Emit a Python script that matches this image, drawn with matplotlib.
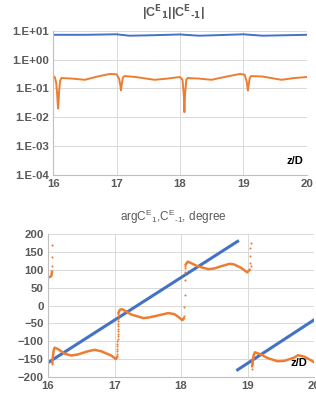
import numpy as np
import matplotlib.pyplot as plt

BLUE = '#4472C4'
ORANGE = '#ED7D31'
GRAY = '#595959'

# top panel: |C^E_1| and |C^E_-1| vs z/D
z_mag1 = [16.0, 16.5, 17.0, 17.2, 17.5, 18.0, 18.3, 18.5, 19.0, 19.3, 19.6, 20.0]
mag1 = [7.3, 7.3, 7.6, 6.8, 7.0, 7.5, 6.8, 7.0, 7.6, 6.8, 7.0, 7.3]

z_mag2 = [16.0, 16.03, 16.05, 16.065, 16.075, 16.08, 16.085, 16.095, 16.11, 16.13,
          16.3, 16.5, 16.7, 16.9, 17.0, 17.04, 17.06, 17.07, 17.08, 17.1, 17.13,
          17.3, 17.6, 17.8, 18.0, 18.04, 18.06, 18.07, 18.08, 18.1, 18.12,
          18.3, 18.5, 18.7, 18.95, 19.02, 19.05, 19.065, 19.07, 19.08, 19.1, 19.12,
          19.3, 19.6, 19.8, 20.0]
mag2 = [0.28, 0.24, 0.15, 0.06, 0.025, 0.02, 0.03, 0.08, 0.18, 0.23,
        0.22, 0.20, 0.26, 0.32, 0.31, 0.22, 0.13, 0.085, 0.13, 0.24, 0.27,
        0.25, 0.20, 0.22, 0.25, 0.20, 0.06, 0.015, 0.06, 0.2, 0.23,
        0.22, 0.20, 0.25, 0.32, 0.30, 0.18, 0.11, 0.085, 0.12, 0.23, 0.27,
        0.26, 0.20, 0.23, 0.25]

# bottom panel: phases in degrees
z_ph1 = [16.0, 18.85, np.nan, 18.85, 20.0]
ph1 = [-160, 180, np.nan, -180, -40]

z_ph2 = [16.0, 16.03, 16.05, 16.06, np.nan,
         16.065, 16.07, 16.085, 16.1, 16.15, 16.25, 16.35, 16.45, 16.6, 16.7, 16.8, 16.95, 17.02, 17.035, np.nan,
         17.06, 17.08, 17.11, 17.15, 17.25, 17.43, 17.5, 17.6, 17.81, 17.9, 17.96, 18.02, 18.04, np.nan,
         18.07, 18.1, 18.15, 18.25, 18.41, 18.5, 18.6, 18.73, 18.8, 18.9, 18.995, 19.03, np.nan,
         19.07, 19.09, 19.11, 19.2, 19.3, 19.45, 19.55, 19.7, 19.76, 19.85, 19.95, 20.0]
ph2 = [80, 80, 83, 95, np.nan,
       -158, -148, -125, -118, -122, -135, -140, -137, -128, -124, -128, -140, -150, -145, np.nan,
       -20, -12, -10, -14, -25, -35, -34, -30, -21, -24, -32, -41, -36, np.nan,
       115, 123, 119, 110, 102, 104, 110, 117, 115, 106, 93, 100, np.nan,
       -170, -140, -131, -137, -147, -156, -155, -146, -139, -143, -153, -159]

# scattered sample points along the phase jumps
z_jump = [16.062, 16.062, 16.062, 16.064, 16.064,
          17.038, 17.039, 17.040, 17.041, 17.042, 17.043, 17.044, 17.045, 17.046,
          17.047, 17.048, 17.049, 17.050, 17.051, 17.052, 17.053, 17.054, 17.056,
          18.05, 18.05, 18.052, 18.054, 18.056, 18.058, 18.06,
          19.04, 19.04, 19.042, 19.044, 19.046, 19.065, 19.065]
ph_jump = [170, 135, 112, -165, -160,
           -142, -135, -128, -121, -114, -107, -100, -93, -86,
           -79, -72, -65, -58, -51, -44, -37, -30, -24,
           -28, -5, 30, 72, 95, 105, 112,
           120, 140, 160, 175, 110, -178, -165]

plt.rcParams['font.family'] = ['Liberation Sans', 'DejaVu Sans']

fig = plt.figure(figsize=(3.16, 4.01), dpi=100)
ax1 = fig.add_axes([0.168, 0.564, 0.803, 0.359])
ax2 = fig.add_axes([0.152, 0.060, 0.842, 0.356])


def style(ax):
    for s in ['top', 'right']:
        ax.spines[s].set_visible(False)
    for s in ['left', 'bottom']:
        ax.spines[s].set_color('#BFBFBF')
        ax.spines[s].set_linewidth(0.8)
    ax.grid(True, color='#D9D9D9', linewidth=0.7)
    ax.set_axisbelow(True)
    ax.tick_params(length=0, labelsize=8.2, labelcolor=GRAY, pad=3)
    for lab in ax.get_xticklabels() + ax.get_yticklabels():
        lab.set_fontweight('bold')
    ax.set_xlim(16, 20)
    ax.set_xticks([16, 17, 18, 19, 20])


ax1.semilogy(z_mag1, mag1, color=BLUE, lw=1.4)
ax1.semilogy(z_mag2, mag2, color=ORANGE, lw=1.4)
ax1.set_ylim(1e-4, 10)
ax1.set_yticks([1e-4, 1e-3, 1e-2, 1e-1, 1, 10])
ax1.set_yticklabels(['1.E-04', '1.E-03', '1.E-02', '1.E-01', '1.E+00', '1.E+01'])
ax1.minorticks_off()
style(ax1)
ax1.text(0.985, 0.06, 'z/D', transform=ax1.transAxes, ha='right', va='bottom',
         fontsize=8, fontweight='bold')

ax2.plot(z_ph1, ph1, color=BLUE, lw=2.2)
ax2.plot(z_ph2, ph2, color=ORANGE, lw=1.8)
ax2.plot(z_jump, ph_jump, 'o', color=ORANGE, ms=1.5, mew=0)
ax2.set_ylim(-200, 200)
ax2.set_yticks(range(-200, 201, 50))
style(ax2)
ax2.text(0.975, 0.06, 'z/D', transform=ax2.transAxes, ha='right', va='bottom',
         fontsize=8, fontweight='bold')

fig.text(0.548, 0.967, '|C$^{\\mathbf{E}}$$_{\\mathbf{1}}$||C$^{\\mathbf{E}}$$_{\\mathbf{\u2010}\\mathbf{1}}$|',
         ha='center', va='center', fontsize=9, color=GRAY, fontweight='bold')
fig.text(0.548, 0.458, 'argC$^{\\mathregular{E}}$$_{\\mathregular{1}}$,C$^{\\mathregular{E}}$$_{\\mathregular{\u20101}}$, degree',
         ha='center', va='center', fontsize=8.5, color=GRAY)

fig.savefig('out.png', dpi=100)
